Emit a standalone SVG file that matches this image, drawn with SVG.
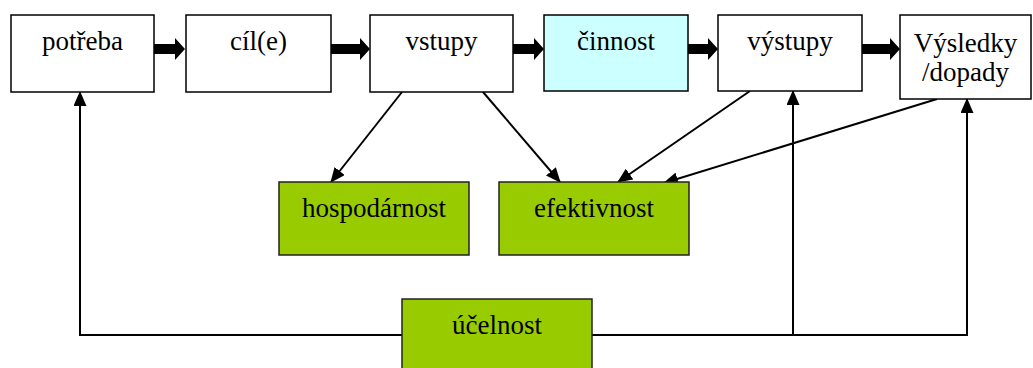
<svg xmlns="http://www.w3.org/2000/svg" width="1033" height="368" viewBox="0 0 1033 368">
<defs>
<style>
.box{stroke:#000;stroke-width:1.5;}
.w{fill:#fff;}
.c{fill:#ccffff;}
.g{fill:#99cc00;stroke:#222;}
.ln{fill:none;stroke:#000;stroke-width:2;}
.thick{fill:#000;}
</style>
<marker id="ah" markerWidth="15" markerHeight="13" refX="14" refY="6.5" orient="auto" markerUnits="userSpaceOnUse">
<path d="M0,0 L15,6.5 L0,13 Z" fill="#000"/>
</marker>
</defs>
<rect width="1033" height="368" fill="#fff"/>
<g id="connectors">
<polygon class="thick" points="154,44 175,44 175,38 185,49 175,60 175,54 154,54"/>
<polygon class="thick" points="331,44 360,44 360,38 370,49 360,60 360,54 331,54"/>
<polygon class="thick" points="513,44 534,44 534,38 544,49 534,60 534,54 513,54"/>
<polygon class="thick" points="688,44 708,44 708,38 718,49 708,60 708,54 688,54"/>
<polygon class="thick" points="862,44 890,44 890,38 900,49 890,60 890,54 862,54"/>
<line class="ln" x1="402" y1="92" x2="331" y2="182" marker-end="url(#ah)"/>
<line class="ln" x1="483" y1="92" x2="560" y2="182" marker-end="url(#ah)"/>
<line class="ln" x1="750" y1="91" x2="618" y2="182" marker-end="url(#ah)"/>
<line class="ln" x1="937" y1="99" x2="664" y2="183" marker-end="url(#ah)"/>
<polyline class="ln" points="402,335 80,335 80,92" marker-end="url(#ah)"/>
<polyline class="ln" points="592,335 967,335 967,99" marker-end="url(#ah)"/>
<line class="ln" x1="793" y1="335" x2="793" y2="91" marker-end="url(#ah)"/>
</g>
<g font-family="'Liberation Serif', 'DejaVu Serif', serif" font-size="27" fill="#000" text-anchor="middle">
<g id="potreba"><rect class="box w" x="11" y="15" width="143" height="77"/><text x="82.5" y="50">potřeba</text></g>
<g id="cil"><rect class="box w" x="186" y="15" width="145" height="77"/><text x="258.5" y="50">cíl(e)</text></g>
<g id="vstupy"><rect class="box w" x="370" y="15" width="143" height="77"/><text x="441.5" y="50">vstupy</text></g>
<g id="cinnost"><rect class="box c" x="544" y="15" width="144" height="76"/><text x="616" y="50">činnost</text></g>
<g id="vystupy"><rect class="box w" x="718" y="15" width="144" height="76"/><text x="790" y="50">výstupy</text></g>
<g id="vysledky"><rect class="box w" x="900" y="15" width="131" height="84"/><text x="965.5" y="52">Výsledky</text><text x="965.5" y="81">/dopady</text></g>
<g id="hospodarnost"><rect class="box g" x="279" y="182" width="190" height="73"/><text x="374" y="217">hospodárnost</text></g>
<g id="efektivnost"><rect class="box g" x="499" y="182" width="190" height="73"/><text x="594" y="217">efektivnost</text></g>
<g id="ucelnost"><rect class="box g" x="402" y="299" width="190" height="80"/><text x="497" y="334">účelnost</text></g>
</g>
</svg>
